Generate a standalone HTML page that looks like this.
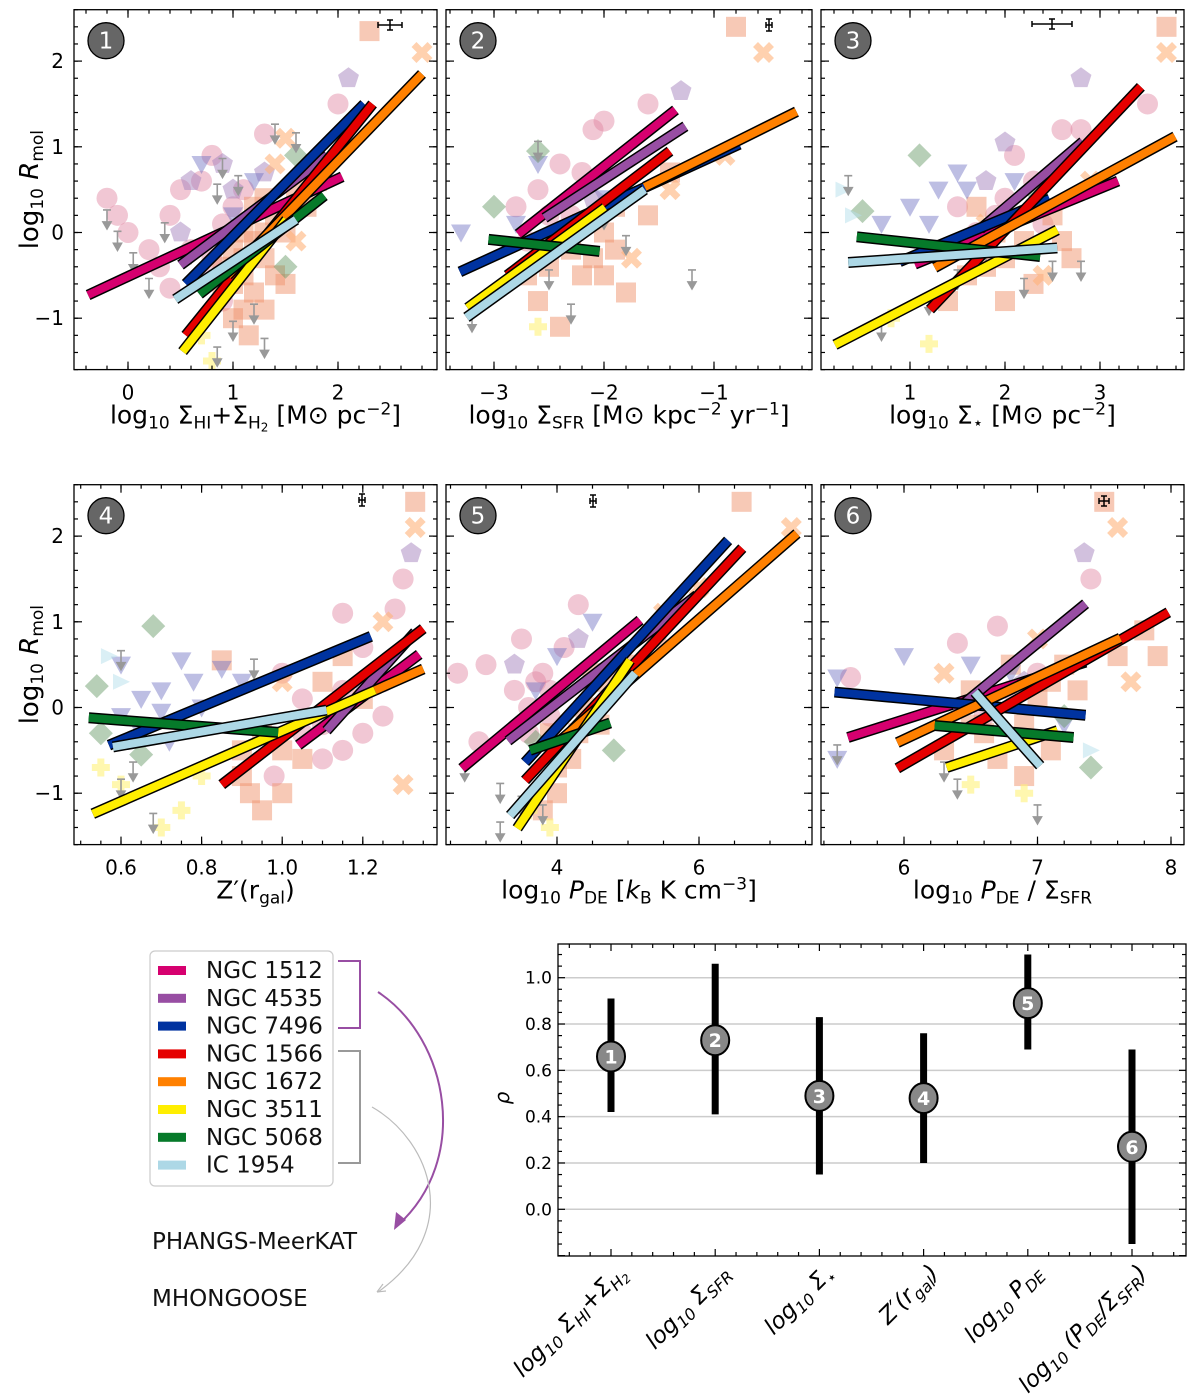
<!DOCTYPE html>
<html><head><meta charset="utf-8">
<style>
html,body{margin:0;padding:0;background:#fff;}
svg{display:block;font-family:"DejaVu Sans","Liberation Sans",sans-serif;}
</style></head>
<body>
<svg id="fig" width="1200" height="1399" viewBox="0 0 1200 1399" xmlns="http://www.w3.org/2000/svg">
<g id="panels"></g>
<g id="legend">
  <rect x="150" y="951" width="183" height="235" rx="5" fill="#fff" stroke="#ccc" stroke-width="1.2"/>
</g>
<g id="rho"></g>
</svg>
<script>
const galaxies=["NGC 1512","NGC 4535","NGC 7496","NGC 1566","NGC 1672","NGC 3511","NGC 5068","IC 1954"];
const galColors=["#d6006f","#984ea3","#0033a0","#e50000","#ff8000","#ffee00","#067a2a","#add8e6"];

// fit line endpoints [x0,y0,x1,y1] per galaxy, per panel
const fits1=[[-0.38,-0.73,2.04,0.65],[0.5,-0.38,1.9,0.9],[0.55,-0.6,2.25,1.5],[0.55,-1.2,2.33,1.5],[0.95,-0.5,2.8,1.85],[0.52,-1.39,1.51,0.15],[0.68,-0.72,1.87,0.43],[0.45,-0.78,1.6,0.15]];
const fits2=[[-2.78,-0.02,-1.35,1.43],[-2.54,0.17,-1.26,1.24],[-3.31,-0.46,-0.77,1.03],[-2.88,-0.5,-1.4,0.95],[-1.63,0.53,-0.25,1.41],[-3.24,-0.88,-1.99,0.29],[-3.05,-0.08,-2.04,-0.22],[-3.25,-0.99,-1.63,0.5]];
const fits3=[[1.05,-0.37,3.19,0.6],[1.74,0.04,2.82,1.06],[0.89,-0.34,2.47,0.39],[1.21,-0.9,3.43,1.7],[1.26,-0.41,3.79,1.12],[0.21,-1.31,2.55,0.03],[0.44,-0.05,2.37,-0.28],[0.35,-0.35,2.55,-0.18]];
const fits4=[[1.04,-0.44,1.34,0.62],[1.11,-0.27,1.33,0.88],[0.57,-0.44,1.22,0.83],[0.85,-0.9,1.35,0.92],[1.23,0.2,1.35,0.45],[0.53,-1.24,1.23,0.2],[0.52,-0.12,0.99,-0.29],[0.58,-0.46,1.11,-0.03]];
const fits5=[[2.66,-0.71,5.17,1.02],[3.31,-0.39,5.97,1.31],[3.55,-0.64,6.41,1.95],[3.55,-0.85,6.61,1.86],[4.04,-0.39,7.38,2.03],[3.44,-1.41,5.03,0.55],[3.62,-0.5,4.75,-0.18],[3.34,-1.26,5.1,0.4]];
const fits6=[[5.58,-0.35,7.36,0.53],[6.38,-0.04,7.36,1.21],[5.48,0.18,7.36,-0.09],[5.95,-0.71,7.98,1.11],[5.95,-0.41,7.62,0.81],[6.32,-0.7,7.15,-0.27],[6.23,-0.21,7.27,-0.35],[6.53,0.18,7.02,-0.68]];

// scatter points [x,y,marker]  c=circle p=pentagon v=triangle s=square x=cross d=diamond y=yellow-plus b=lightblue
const pts1=[[-0.2,0.4,"c"],[-0.1,0.2,"c"],[0,0,"c"],[0.2,-0.2,"c"],[0.4,0.2,"c"],[0.5,0.5,"c"],[0.8,0.9,"c"],[1.3,1.15,"c"],[0.7,0.6,"c"],[0.3,-0.4,"c"],[0.4,-0.65,"c"],[2.0,1.5,"c"],[1.0,0.3,"c"],[0.9,0.1,"c"],[1.1,0.5,"c"],[0.6,-0.2,"c"],[0.8,-0.3,"c"],[0.7,-0.5,"c"],[0.9,-0.8,"c"],[1.0,-0.6,"s"],[1.1,-0.9,"s"],[1.15,-1.2,"s"],[1.3,-0.3,"s"],[1.4,0.2,"s"],[1.6,0.5,"s"],[1.8,0.6,"s"],[1.2,-0.1,"s"],[0.9,-0.4,"s"],[1.5,-0.6,"s"],[1.1,-0.3,"s"],[1.3,0.4,"s"],[1.0,-1.0,"s"],[1.2,-0.7,"s"],[1.3,-0.9,"s"],[1.4,-0.5,"s"],[1.1,0.0,"s"],[1.2,0.3,"s"],[1.5,0.0,"s"],[1.7,0.3,"s"],[1.0,-0.2,"s"],[0.9,-0.6,"s"],[1.1,-0.5,"s"],[1.3,0.0,"s"],[2.3,2.35,"s"],[0.6,0.6,"p"],[0.9,0.8,"p"],[1.3,0.7,"p"],[2.1,1.8,"p"],[0.5,0.0,"p"],[1.0,0.5,"p"],[1.5,1.1,"x"],[2.8,2.1,"x"],[1.7,0.7,"x"],[1.4,0.8,"x"],[1.6,-0.1,"x"],[1.5,-0.4,"d"],[1.6,0.9,"d"],[0.8,-1.5,"y"],[0.7,-1.2,"y"],[0.7,0.8,"v"],[1.2,0.6,"v"],[1.0,0.2,"v"]];
const pts2=[[-2.1,1.2,"c"],[-2.4,0.8,"c"],[-2.6,0.5,"c"],[-2.2,0.7,"c"],[-2.0,1.3,"c"],[-1.6,1.5,"c"],[-2.8,0.3,"c"],[-2.3,0.2,"c"],[-2.5,0.2,"c"],[-2.4,0.0,"c"],[-2.7,-0.1,"c"],[-2.6,-0.8,"s"],[-2.4,-1.1,"s"],[-1.8,-0.7,"s"],[-1.9,-0.2,"s"],[-1.6,0.2,"s"],[-0.8,2.4,"s"],[-2.2,-0.5,"s"],[-1.4,0.7,"s"],[-2.0,0.0,"s"],[-2.3,-0.2,"s"],[-2.1,-0.3,"s"],[-2.5,-0.4,"s"],[-2.2,0.1,"s"],[-1.9,0.3,"s"],[-2.7,-0.5,"s"],[-2.0,-0.5,"s"],[-3.3,0,"v"],[-2.6,0.8,"v"],[-2.0,0.4,"v"],[-2.8,0.1,"v"],[-3.0,0.3,"d"],[-2.6,0.95,"d"],[-0.9,0.9,"x"],[-1.4,0.5,"x"],[-0.55,2.1,"x"],[-1.75,-0.3,"x"],[-1.3,1.65,"p"],[-2.1,0.4,"p"],[-2.6,-1.1,"y"]];
const pts3=[[2.6,1.2,"c"],[2.8,1.2,"c"],[3.5,1.5,"c"],[2.3,0.6,"c"],[1.5,0.3,"c"],[2.1,0.9,"c"],[1.9,0.2,"c"],[2.0,0.4,"c"],[1.7,0.0,"c"],[2.4,0.1,"c"],[3.7,2.4,"s"],[2.0,-0.8,"s"],[1.8,-0.4,"s"],[1.5,-0.2,"s"],[2.5,0.2,"s"],[2.7,-0.3,"s"],[2.2,-0.1,"s"],[1.6,-0.5,"s"],[2.0,-0.3,"s"],[2.3,-0.6,"s"],[1.4,-0.8,"s"],[1.9,0.0,"s"],[2.6,-0.1,"s"],[1.7,0.3,"s"],[1.5,0.7,"v"],[2.1,0.6,"v"],[1.0,0.3,"v"],[0.7,0.1,"v"],[1.3,0.5,"v"],[1.2,0.1,"v"],[1.6,0.5,"v"],[0.5,0.25,"d"],[1.1,0.9,"d"],[2.3,0.5,"d"],[3.7,2.1,"x"],[2.9,0.6,"x"],[2.4,-0.5,"x"],[1.8,0.1,"x"],[2.8,1.8,"p"],[2.0,1.05,"p"],[1.8,0.6,"p"],[0.8,-1.0,"y"],[1.2,-1.3,"y"],[0.3,0.5,"b"],[0.4,0.2,"b"]];
const pts4=[[1.3,1.5,"c"],[1.15,1.1,"c"],[1.2,0.7,"c"],[1.0,0.4,"c"],[1.1,-0.2,"c"],[1.25,-0.1,"c"],[1.15,-0.5,"c"],[1.05,0.1,"c"],[1.28,1.15,"c"],[1.1,-0.6,"c"],[1.2,-0.3,"c"],[1.05,-0.3,"c"],[1.15,0.2,"c"],[1.25,0.3,"c"],[0.98,-0.8,"c"],[1.33,2.4,"s"],[0.95,-1.2,"s"],[1.0,-1.0,"s"],[1.05,-0.6,"s"],[0.9,-0.5,"s"],[1.15,0.6,"s"],[1.2,0.1,"s"],[1.1,0.3,"s"],[0.85,0.55,"s"],[0.9,-0.8,"s"],[0.95,-0.3,"s"],[1.0,-0.5,"s"],[0.92,-1.0,"s"],[0.6,0.5,"v"],[0.7,0.2,"v"],[0.75,0.55,"v"],[0.8,0,"v"],[0.9,0.3,"v"],[0.65,-0.3,"v"],[0.85,0.45,"v"],[0.72,-0.4,"v"],[0.65,0.1,"v"],[0.6,-0.1,"v"],[0.78,0.3,"v"],[0.7,-0.05,"v"],[0.54,0.25,"d"],[0.68,0.95,"d"],[0.55,-0.3,"d"],[0.65,-0.55,"d"],[1.33,2.1,"x"],[1.3,-0.9,"x"],[1.25,1.0,"x"],[1.0,0.3,"x"],[1.32,1.8,"p"],[1.2,0.3,"p"],[0.55,-0.7,"y"],[0.6,-0.9,"y"],[0.75,-1.2,"y"],[0.7,-1.4,"y"],[0.8,-0.8,"y"],[0.57,0.6,"b"],[0.6,0.3,"b"]];
const pts5=[[2.6,0.4,"c"],[3.0,0.5,"c"],[4.3,1.2,"c"],[3.5,0.8,"c"],[3.8,0.4,"c"],[4.1,0.7,"c"],[2.9,-0.4,"c"],[3.6,0.0,"c"],[3.9,-0.1,"c"],[3.7,0.3,"c"],[3.4,0.2,"c"],[3.9,0.2,"c"],[3.6,-0.3,"c"],[6.6,2.4,"s"],[4.2,-0.6,"s"],[4.7,0.3,"s"],[5.0,0.5,"s"],[3.9,-0.3,"s"],[4.6,-0.2,"s"],[5.4,0.8,"s"],[4.0,-1.0,"s"],[4.3,-0.3,"s"],[4.4,0.0,"s"],[4.0,-0.7,"s"],[3.8,-1.2,"s"],[4.5,0.4,"s"],[4.0,0.6,"v"],[4.5,1.0,"v"],[3.7,0.2,"v"],[4.8,-0.5,"d"],[3.7,-0.4,"d"],[7.3,2.1,"x"],[5.5,1.1,"x"],[6.0,1.4,"x"],[4.3,0.8,"p"],[3.4,0.5,"p"],[3.9,-1.4,"y"],[3.6,-1.2,"y"]];
const pts6=[[7.4,1.5,"c"],[6.7,0.95,"c"],[6.4,0.75,"c"],[5.6,0.35,"c"],[7.0,0.4,"c"],[6.8,0.2,"c"],[6.6,-0.1,"c"],[7.5,2.4,"s"],[7.0,0.1,"s"],[6.6,-0.3,"s"],[7.1,-0.5,"s"],[7.6,0.6,"s"],[7.8,0.9,"s"],[6.3,-0.5,"s"],[7.3,0.2,"s"],[7.9,0.6,"s"],[6.5,0.2,"s"],[6.9,-0.2,"s"],[6.7,-0.6,"s"],[6.8,0.5,"s"],[7.1,0.3,"s"],[6.5,-0.2,"s"],[6.9,-0.8,"s"],[7.2,0.5,"s"],[5.5,0.35,"v"],[6.0,0.6,"v"],[6.8,0.4,"v"],[7.2,-0.2,"v"],[6.5,0.5,"v"],[5.5,-0.6,"v"],[7.2,-0.1,"d"],[7.4,-0.7,"d"],[7.6,2.1,"x"],[6.3,0.4,"x"],[7.7,0.3,"x"],[7.0,0.8,"x"],[7.35,1.8,"p"],[6.9,0.3,"p"],[6.5,-0.9,"y"],[6.9,-1.0,"y"],[7.4,-0.5,"b"]];

// upper limits [x,y]
const lim1=[[-0.2,0.1],[-0.1,-0.15],[0.05,-0.4],[0.2,-0.7],[0.35,-0.05],[0.9,0.7],[1.05,0.5],[1.4,1.1],[1.6,1.0],[0.6,-0.3],[0.85,0.4],[1.2,-1.0],[1.0,-1.2],[1.3,-1.4],[0.85,-1.5]];
const lim2=[[-2.6,0.9],[-2.0,0.1],[-3.2,-1.1],[-2.3,-1.0],[-1.8,-0.2],[-1.2,-0.6],[-2.5,-0.6]];
const lim3=[[0.35,0.5],[0.7,-1.2],[1.8,-0.4],[2.2,-0.7],[2.5,-0.5],[1.2,-0.9],[1.5,-0.6],[2.8,-0.5]];
const lim4=[[0.6,0.5],[0.6,-1.0],[0.63,-0.8],[0.68,-1.4],[0.93,0.4]];
const lim5=[[2.7,-0.8],[3.2,-1.05],[3.5,-1.2],[3.2,-1.5],[3.8,-1.3]];
const lim6=[[5.5,-0.6],[6.3,-0.8],[6.4,-1.0],[7.0,-1.3]];

// correlation chart
const rhoLabels=["1","2","3","4","5","6"];
const rhoVals=[0.66,0.73,0.49,0.48,0.89,0.27];
const rhoLo=[0.42,0.41,0.15,0.20,0.69,-0.15];
const rhoHi=[0.91,1.06,0.83,0.76,1.10,0.69];
const rhoTicks=[0.0,0.2,0.4,0.6,0.8,1.0];

const NS="http://www.w3.org/2000/svg";
function mk(tag,attrs,parent){const e=document.createElementNS(NS,tag);for(const k in attrs)e.setAttribute(k,attrs[k]);if(parent)parent.appendChild(e);return e;}

const markerFill={c:"#e0829f",p:"#a583bd",v:"#6d6fc0",s:"#f0936e",x:"#ffb27a",d:"#5f9560",y:"#fff27a",b:"#b6e0ec"};

const panels=[
 {n:1,L:74,R:437,T:9.7,B:369.6,x0:128,xs:105,y0:232.5,xt:[0,1,2],xmin:0.2,xlab:"p1",fits:fits1,pts:pts1,lim:lim1,err:[390,25,12,5],showY:true},
 {n:2,L:446,R:812,T:9.7,B:369.6,x0:494+330,xs:110,y0:232.5,xt:[-3,-2,-1],xmin:0.2,xlab:"p2",fits:fits2,pts:pts2,lim:lim2,err:[769,25,3,6],showY:false},
 {n:3,L:821,R:1184,T:9.7,B:369.6,x0:910-95,xs:95,y0:232.5,xt:[1,2,3],xmin:0.2,xlab:"p3",fits:fits3,pts:pts3,lim:lim3,err:[1052,24,20,5],showY:false},
 {n:4,L:74,R:437,T:484.7,B:844.6,x0:121-0.6*403,xs:403,y0:707.5,xt:[0.6,0.8,1.0,1.2],xmin:0.05,xlab:"p4",fits:fits4,pts:pts4,lim:lim4,err:[362,500,3,6],showY:true},
 {n:5,L:446,R:812,T:484.7,B:844.6,x0:557-4*71,xs:71,y0:707.5,xt:[4,6],xmin:0.5,xlab:"p5",fits:fits5,pts:pts5,lim:lim5,err:[593,501,3,6],showY:false},
 {n:6,L:821,R:1184,T:484.7,B:844.6,x0:904-6*133.5,xs:133.5,y0:707.5,xt:[6,7,8],xmin:0.2,xlab:"p6",fits:fits6,pts:pts6,lim:lim6,err:[1104,501,5,5],showY:false}
];
const YS=85.7;
const root=document.getElementById("panels");

function drawMarker(g,px,py,t){
  const f=markerFill[t];let e;
  if(t==="c")e=mk("circle",{cx:px,cy:py,r:10.5,fill:f,"fill-opacity":0.45},g);
  else if(t==="s")e=mk("rect",{x:px-10,y:py-10,width:20,height:20,fill:f,"fill-opacity":0.5},g);
  else if(t==="v")e=mk("polygon",{points:`${px-10},${py-8} ${px+10},${py-8} ${px},${py+10}`,fill:f,"fill-opacity":0.45},g);
  else if(t==="d")e=mk("polygon",{points:`${px},${py-12} ${px+12},${py} ${px},${py+12} ${px-12},${py}`,fill:f,"fill-opacity":0.45},g);
  else if(t==="p"){let s="";for(let i=0;i<5;i++){const a=-Math.PI/2+i*2*Math.PI/5;s+=(px+11*Math.cos(a))+","+(py+11*Math.sin(a))+" ";}e=mk("polygon",{points:s,fill:f,"fill-opacity":0.5},g);}
  else if(t==="x")e=mk("path",{d:`M${px-8},${py-8}L${px+8},${py+8}M${px+8},${py-8}L${px-8},${py+8}`,stroke:f,"stroke-width":7,"stroke-opacity":0.6},g);
  else if(t==="y")e=mk("path",{d:`M${px-9},${py}L${px+9},${py}M${px},${py-9}L${px},${py+9}`,stroke:f,"stroke-width":7,"stroke-opacity":0.6},g);
  else e=mk("polygon",{points:`${px-8},${py-8} ${px+9},${py} ${px-8},${py+8}`,fill:f,"fill-opacity":0.5},g);
  return e;
}

const xlabels={
 p1:'log<tspan font-size="17" dy="5">10</tspan><tspan dy="-5"> Σ</tspan><tspan font-size="17" dy="5">HI</tspan><tspan dy="-5">+Σ</tspan><tspan font-size="17" dy="5">H</tspan><tspan font-size="12" dy="3">2</tspan><tspan dy="-8"> [M</tspan><tspan>⊙ pc</tspan><tspan font-size="17" dy="-9">−2</tspan><tspan dy="9">]</tspan>',
 p2:'log<tspan font-size="17" dy="5">10</tspan><tspan dy="-5"> Σ</tspan><tspan font-size="17" dy="5">SFR</tspan><tspan dy="-5"> [M⊙ kpc</tspan><tspan font-size="17" dy="-9">−2</tspan><tspan dy="9"> yr</tspan><tspan font-size="17" dy="-9">−1</tspan><tspan dy="9">]</tspan>',
 p3:'log<tspan font-size="17" dy="5">10</tspan><tspan dy="-5"> Σ</tspan><tspan font-size="17" dy="5">⋆</tspan><tspan dy="-5"> [M⊙ pc</tspan><tspan font-size="17" dy="-9">−2</tspan><tspan dy="9">]</tspan>',
 p4:'Z′(r<tspan font-size="17" dy="5">gal</tspan><tspan dy="-5">)</tspan>',
 p5:'log<tspan font-size="17" dy="5">10</tspan><tspan dy="-5" font-style="italic"> P</tspan><tspan font-size="17" dy="5">DE</tspan><tspan dy="-5"> [</tspan><tspan font-style="italic">k</tspan><tspan font-size="17" dy="5">B</tspan><tspan dy="-5"> K cm</tspan><tspan font-size="17" dy="-9">−3</tspan><tspan dy="9">]</tspan>',
 p6:'log<tspan font-size="17" dy="5">10</tspan><tspan dy="-5" font-style="italic"> P</tspan><tspan font-size="17" dy="5">DE</tspan><tspan dy="-5"> / Σ</tspan><tspan font-size="17" dy="5">SFR</tspan>'
};

panels.forEach(P=>{
  const g=mk("g",{},root);
  
  
  const X=v=>P.x0+v*P.xs, Y=v=>P.y0-v*YS;
  const cid="clip"+P.n;
  const cp=mk("clipPath",{id:cid},g);mk("rect",{x:P.L,y:P.T,width:P.R-P.L,height:P.B-P.T},cp);
  const plot=mk("g",{"clip-path":`url(#${cid})`},g);
  const sc=mk("g",{},plot);
  
  
  P.pts.forEach(p=>{const m=drawMarker(sc,X(p[0]),Y(p[1]),p[2]);
    
    });
  const lg=mk("g",{},plot);
  
  
  P.lim.forEach(l=>{const px=X(l[0]),py=Y(l[1]);
    const a=mk("path",{d:`M${px-4},${py-14}L${px+4},${py-14}M${px},${py-14}L${px},${py+2}M${px-4},${py-2}L${px},${py+5}L${px+4},${py-2}Z`,stroke:"#999","stroke-width":1.6,fill:"#999"},lg);
    
    });
  const fg=mk("g",{},plot);
  P.fits.forEach((f,i)=>{
    const d=`M${X(f[0])},${Y(f[1])}L${X(f[2])},${Y(f[3])}`;
    const o=mk("path",{d:d,stroke:"#000","stroke-width":11},fg);
    
    
    const c=mk("path",{d:d,stroke:galColors[i],"stroke-width":8},fg);
    
    
  });
  const [ex,ey,ew,eh]=P.err;
  const eb=mk("path",{d:`M${ex-ew},${ey}L${ex+ew},${ey}M${ex-ew},${ey-3}L${ex-ew},${ey+3}M${ex+ew},${ey-3}L${ex+ew},${ey+3}M${ex},${ey-eh}L${ex},${ey+eh}M${ex-3},${ey-eh}L${ex+3},${ey-eh}M${ex-3},${ey+eh}L${ex+3},${ey+eh}`,stroke:"#000","stroke-width":1.5,fill:"none"},g);
  
  
  const fr=mk("rect",{x:P.L,y:P.T,width:P.R-P.L,height:P.B-P.T,fill:"none",stroke:"#000","stroke-width":1.3},g);
  
  
  const tk=mk("g",{stroke:"#000","stroke-width":1.2},g);
  const xa=(P.L-P.x0)/P.xs, xb=(P.R-P.x0)/P.xs;
  for(let v=Math.ceil(xa/P.xmin)*P.xmin; v<=xb; v+=P.xmin){const px=X(v);
    mk("line",{x1:px,y1:P.B,x2:px,y2:P.B-4},tk);mk("line",{x1:px,y1:P.T,x2:px,y2:P.T+4},tk);}
  P.xt.forEach(v=>{const px=X(v);
    mk("line",{x1:px,y1:P.B,x2:px,y2:P.B-8},tk);mk("line",{x1:px,y1:P.T,x2:px,y2:P.T+8},tk);
    const t=mk("text",{x:px,y:P.B+30,"text-anchor":"middle","font-size":20,fill:"#000"},g);
    t.textContent=(v<0?"−"+Math.abs(v):(P.n===4?v.toFixed(1):String(v)));
    
    });
  for(let v=-1.6; v<=2.6; v+=0.2){const py=Y(v);
    mk("line",{x1:P.L,y1:py,x2:P.L+4,y2:py},tk);mk("line",{x1:P.R,y1:py,x2:P.R-4,y2:py},tk);}
  [-1,0,1,2].forEach(v=>{const py=Y(v);
    mk("line",{x1:P.L,y1:py,x2:P.L+8,y2:py},tk);mk("line",{x1:P.R,y1:py,x2:P.R-8,y2:py},tk);
    if(P.showY){const t=mk("text",{x:P.L-10,y:py+7,"text-anchor":"end","font-size":20,fill:"#000"},g);
      t.textContent=v<0?"−"+Math.abs(v):String(v);
      
      }});
  const xl=mk("text",{x:(P.L+P.R)/2,y:P.B+54,"text-anchor":"middle","font-size":25,fill:"#000"},g);
  xl.innerHTML=xlabels[P.xlab];
  
  
  if(P.showY){
    const yl=mk("text",{x:0,y:0,transform:`translate(38,${(P.T+P.B)/2}) rotate(-90)`,"text-anchor":"middle","font-size":26,fill:"#000"},g);
    yl.innerHTML='log<tspan font-size="17" dy="5">10</tspan><tspan dy="-5" font-style="italic"> R</tspan><tspan font-size="17" dy="5">mol</tspan>';
    
    
  }
  const bc=mk("circle",{cx:P.L+32,cy:P.T+31,r:18,fill:"#666",stroke:"#000","stroke-width":1.3},g);
  
  
  const bt=mk("text",{x:P.L+32,y:P.T+39,"text-anchor":"middle","font-size":23,fill:"#fff"},g);
  bt.textContent=P.n;
});

const leg=document.getElementById("legend");
galaxies.forEach((n,i)=>{
  const y=970+27.8*i;
  const r=mk("rect",{x:158,y:y-4,width:28,height:9,fill:galColors[i]},leg);
  
  
  const t=mk("text",{x:206,y:y+8,"font-size":23,fill:"#111"},leg);
  t.textContent=n;
  
  
});
const br1=mk("path",{d:"M338,961H360V1028H338",fill:"none",stroke:"#984ea3","stroke-width":2},leg);


const br2=mk("path",{d:"M338,1051H360V1163H338",fill:"none",stroke:"#999","stroke-width":2},leg);


const a1=mk("path",{d:"M378,992C450,1040 470,1160 398,1225",fill:"none",stroke:"#984ea3","stroke-width":2},leg);


mk("polygon",{points:"394,1230 396,1212 406,1220",fill:"#984ea3"},leg);
const a2=mk("path",{d:"M372,1107C430,1140 465,1230 378,1292",fill:"none",stroke:"#bbb","stroke-width":1.2},leg);


mk("path",{d:"M377,1292L383,1284M377,1292L386,1291",stroke:"#bbb","stroke-width":1.2},leg);
const s1=mk("text",{x:152,y:1249,"font-size":23,fill:"#111"},leg);s1.textContent="PHANGS-MeerKAT";


const s2=mk("text",{x:152,y:1306,"font-size":23,fill:"#111"},leg);s2.textContent="MHONGOOSE";



(function(){
  const g=document.getElementById("rho");
  const L=558,R=1186,T=944,B=1256;
  const Y=v=>1209.3-v*231.6;
  const X=i=>611+i*104.2;
  rhoTicks.forEach(v=>{
    const gl=mk("line",{x1:L,x2:R,y1:Y(v),y2:Y(v),stroke:"#ccc","stroke-width":1.5},g);
    
    
    const t=mk("text",{x:L-6,y:Y(v)+6,"text-anchor":"end","font-size":17,fill:"#000"},g);
    t.textContent=v.toFixed(1);
    
    
  });
  const fr=mk("rect",{x:L,y:T,width:R-L,height:B-T,fill:"none",stroke:"#000","stroke-width":1.3},g);
  
  
  const tk=mk("g",{stroke:"#000","stroke-width":1.2},g);
  for(let v=-0.2;v<=1.15;v+=0.05){const m=Math.abs(Math.round(v*10)-v*10)<1e-6&&Math.round(v*10)%2===0;const l=m?7:4;
    mk("line",{x1:L,x2:L+l,y1:Y(v),y2:Y(v)},tk);mk("line",{x1:R,x2:R-l,y1:Y(v),y2:Y(v)},tk);}
  for(let k=-2;k<=27;k++){const x=611+k*104.2/5;if(x<=L||x>=R)continue;const l=k%5===0?7:4;
    mk("line",{x1:x,x2:x,y1:B,y2:B-l},tk);mk("line",{x1:x,x2:x,y1:T,y2:T+l},tk);}
  const yl=mk("text",{x:0,y:0,transform:"translate(509,1098) rotate(-90)","text-anchor":"middle","font-size":20,"font-style":"italic",fill:"#000"},g);
  yl.textContent="ρ";
  
  
  const catLab=[
    'log<tspan font-size="16" dy="5">10</tspan><tspan dy="-5"> Σ</tspan><tspan font-size="16" dy="5">HI</tspan><tspan dy="-5">+Σ</tspan><tspan font-size="16" dy="5">H</tspan><tspan font-size="12" dy="2">2</tspan>',
    'log<tspan font-size="16" dy="5">10</tspan><tspan dy="-5"> Σ</tspan><tspan font-size="16" dy="5">SFR</tspan>',
    'log<tspan font-size="16" dy="5">10</tspan><tspan dy="-5"> Σ</tspan><tspan font-size="16" dy="5">⋆</tspan>',
    'Z′(r<tspan font-size="16" dy="5">gal</tspan><tspan dy="-5">)</tspan>',
    'log<tspan font-size="16" dy="5">10</tspan><tspan dy="-5"> P</tspan><tspan font-size="16" dy="5">DE</tspan>',
    'log<tspan font-size="16" dy="5">10</tspan><tspan dy="-5"> (P</tspan><tspan font-size="16" dy="5">DE</tspan><tspan dy="-5">/Σ</tspan><tspan font-size="16" dy="5">SFR</tspan><tspan dy="-5">)</tspan>'
  ];
  rhoVals.forEach((v,i)=>{
    const x=X(i);
    const e=mk("line",{x1:x,x2:x,y1:Y(rhoLo[i]),y2:Y(rhoHi[i]),stroke:"#000","stroke-width":7},g);
    
    
    const c=mk("ellipse",{cx:x,cy:Y(v),rx:14,ry:15,fill:"#888",stroke:"#000","stroke-width":2},g);
    
    
    const t=mk("text",{x:x,y:Y(v)+7,"text-anchor":"middle","font-size":19,"font-weight":"bold",fill:"#fff"},g);
    t.textContent=rhoLabels[i];
    const lt=mk("text",{x:0,y:0,transform:`translate(${x+16},${B+18}) rotate(-45)`,"text-anchor":"end","font-size":23,"font-style":"italic",fill:"#000"},g);
    lt.innerHTML=catLab[i];
    
    
  });
})();
</script>
</body></html>
